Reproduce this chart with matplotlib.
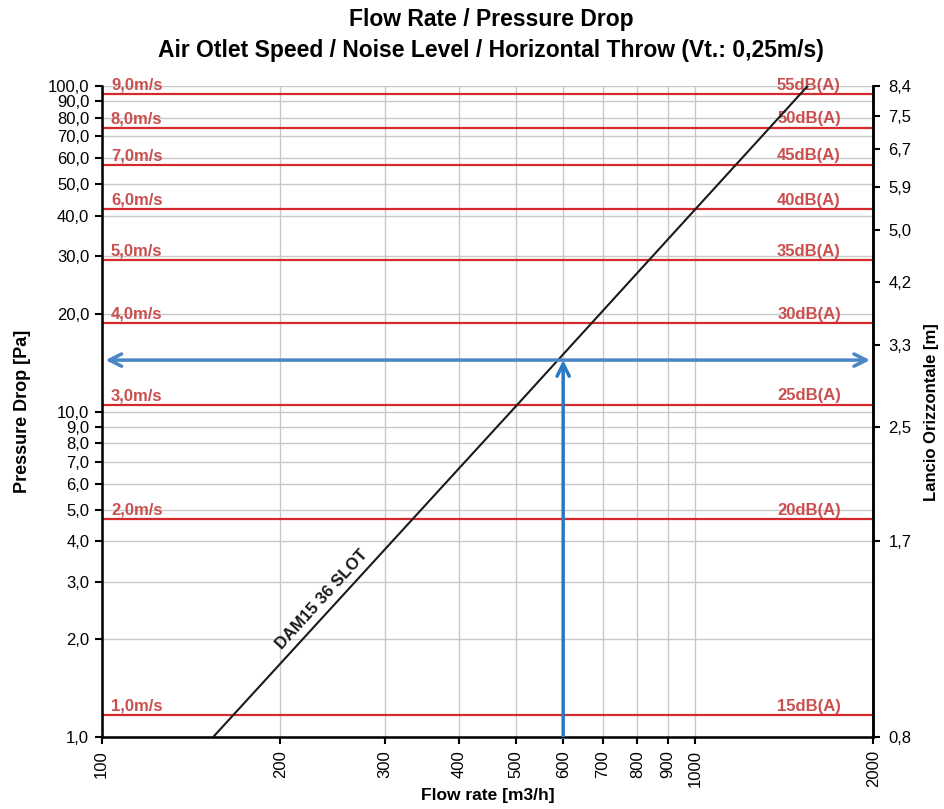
import matplotlib
matplotlib.use('Agg')
import matplotlib.pyplot as plt
from matplotlib.ticker import NullLocator, FixedLocator

# selection curve DAM15 36 SLOT
flow = [154, 502, 1003, 1338, 1550]
pressure = [1.0, 10.5, 41.9, 74.5, 100.0]

# iso-speed / iso-noise lines
speedPressure = [1.17, 4.67, 10.5, 18.7, 29.2, 41.9, 57.3, 74.5, 94.3]
speedLabels = ['1,0m/s', '2,0m/s', '3,0m/s', '4,0m/s', '5,0m/s', '6,0m/s', '7,0m/s', '8,0m/s', '9,0m/s']
noiseLabels = ['15dB(A)', '20dB(A)', '25dB(A)', '30dB(A)', '35dB(A)', '40dB(A)', '45dB(A)', '50dB(A)', '55dB(A)']

xTicks = [100, 200, 300, 400, 500, 600, 700, 800, 900, 1000, 2000]
yTicks = [1, 2, 3, 4, 5, 6, 7, 8, 9, 10, 20, 30, 40, 50, 60, 70, 80, 90, 100]
yTickLabels = ['1,0', '2,0', '3,0', '4,0', '5,0', '6,0', '7,0', '8,0', '9,0', '10,0',
	'20,0', '30,0', '40,0', '50,0', '60,0', '70,0', '80,0', '90,0', '100,0']
throwTicks = [1, 4, 9, 16, 25, 36, 49, 64, 81, 100]
throwLabels = ['0,8', '1,7', '2,5', '3,3', '4,2', '5,0', '5,9', '6,7', '7,5', '8,4']

# example point
selFlow = 600
selPressure = 14.4

plt.rcParams['font.family'] = ['Liberation Sans', 'DejaVu Sans']

redLine = '#d42a2e'
redText = '#c9504f'

fig = plt.figure(figsize=(9.44, 8.09), dpi=100)
ax = fig.add_axes([0.1077, 0.0886, 0.8174, 0.8051])
ax.set_xscale('log')
ax.set_yscale('log')
ax.set_xlim(100, 2000)
ax.set_ylim(1, 100)

ax.xaxis.set_major_locator(FixedLocator(xTicks))
ax.xaxis.set_minor_locator(NullLocator())
ax.set_xticklabels([str(x) for x in xTicks], rotation=90, fontsize=12)
ax.yaxis.set_major_locator(FixedLocator(yTicks))
ax.yaxis.set_minor_locator(NullLocator())
ax.set_yticklabels(yTickLabels, fontsize=12)
ax.tick_params(direction='out', length=5, width=1.5, color='black', pad=4)
ax.grid(True, color='#c8c8c8', lw=1)
ax.set_axisbelow(True)
for s in ['left', 'bottom', 'right']:
	ax.spines[s].set_linewidth(1.8)
ax.spines['top'].set_visible(False)

for p, sl, nl in zip(speedPressure, speedLabels, noiseLabels):
	ax.axhline(p, color=redLine, lw=1.6, zorder=2)
	ax.annotate(sl, xy=(0.012, p), xycoords=('axes fraction', 'data'), xytext=(0, 1),
		textcoords='offset points', ha='left', va='bottom', color=redText, fontsize=12, fontweight='bold')
	ax.annotate(nl, xy=(0.958, p), xycoords=('axes fraction', 'data'), xytext=(0, 1),
		textcoords='offset points', ha='right', va='bottom', color=redText, fontsize=12, fontweight='bold')

ax.plot(flow, pressure, color='#1a1a1a', lw=1.5, zorder=3)
ax.annotate('DAM15 36 SLOT', xy=(244, 2.48), xytext=(-3, 3), textcoords='offset points',
	rotation=47.7, rotation_mode='anchor', ha='center', va='bottom',
	fontsize=12, fontweight='bold', color='#1a1a1a')

# throw and flow arrows
ax.annotate('', xy=(101.5, selPressure), xytext=(1975, selPressure),
	arrowprops=dict(arrowstyle='<->', color='#4a86c5', lw=2.5, mutation_scale=22, shrinkA=0, shrinkB=0), zorder=4)
ax.annotate('', xy=(selFlow, selPressure), xytext=(selFlow, 1.0),
	arrowprops=dict(arrowstyle='->', color='#2a7ac2', lw=2.5, mutation_scale=22, shrinkA=0, shrinkB=0), zorder=4)

ax.set_xlabel('Flow rate [m3/h]', fontsize=12.5, fontweight='bold', labelpad=1)
ax.set_ylabel('Pressure Drop [Pa]', fontsize=13, fontweight='bold', labelpad=12)

ax2 = ax.twinx()
ax2.set_yscale('log')
ax2.set_ylim(1, 100)
ax2.yaxis.set_major_locator(FixedLocator(throwTicks))
ax2.yaxis.set_minor_locator(NullLocator())
ax2.set_yticklabels(throwLabels, fontsize=12)
ax2.tick_params(direction='out', length=5, width=1.5, pad=6)
ax2.spines['right'].set_linewidth(1.8)
ax2.spines['top'].set_visible(False)
ax2.set_ylabel('Lancio Orizzontale [m]', fontsize=12, fontweight='bold', labelpad=9)

fig.suptitle('Flow Rate / Pressure Drop\nAir Otlet Speed / Noise Level / Horizontal Throw (Vt.: 0,25m/s)',
	x=0.52, y=0.99, fontsize=16.5, fontweight='bold', linespacing=1.45)

fig.savefig('out.png', dpi=100)
